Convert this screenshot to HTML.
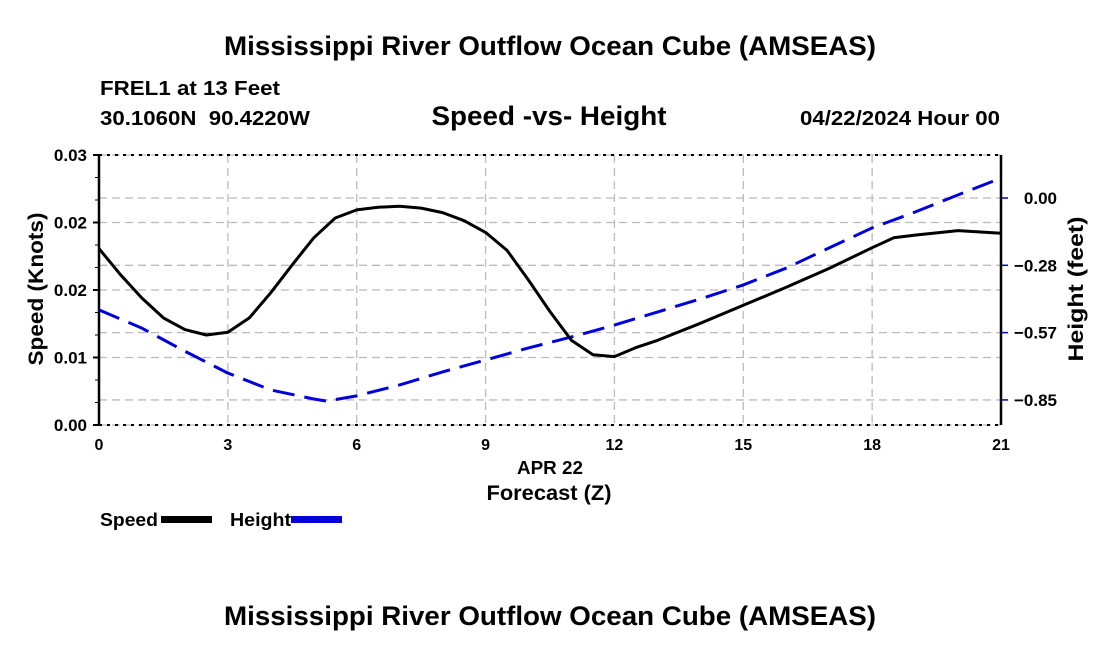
<!DOCTYPE html>
<html><head><meta charset="utf-8"><style>
body{margin:0;background:#fff;width:1100px;height:650px;overflow:hidden;font-family:"Liberation Sans",sans-serif}
</style></head><body>
<svg id="chart" width="1100" height="650" viewBox="0 0 1100 650" xmlns="http://www.w3.org/2000/svg" font-family="Liberation Sans, sans-serif" font-weight="bold">
<rect width="1100" height="650" fill="#fff"/>
<text x="550" y="55" text-anchor="middle" font-size="27" textLength="652" lengthAdjust="spacingAndGlyphs">Mississippi River Outflow Ocean Cube (AMSEAS)</text>
<text x="100" y="95" font-size="20" textLength="180" lengthAdjust="spacingAndGlyphs">FREL1 at 13 Feet</text>
<text x="100" y="125" font-size="20" textLength="210" lengthAdjust="spacingAndGlyphs" xml:space="preserve">30.1060N  90.4220W</text>
<text x="549" y="125" text-anchor="middle" font-size="27" textLength="235" lengthAdjust="spacingAndGlyphs">Speed -vs- Height</text>
<text x="1000" y="125" text-anchor="end" font-size="20" textLength="200" lengthAdjust="spacingAndGlyphs">04/22/2024 Hour 00</text>
<g id="grid"></g>
<g id="axes"></g>
<g id="series"></g>
<text x="550" y="474" text-anchor="middle" font-size="18" textLength="66" lengthAdjust="spacingAndGlyphs">APR 22</text>
<text x="549" y="500" text-anchor="middle" font-size="21" textLength="125" lengthAdjust="spacingAndGlyphs">Forecast (Z)</text>
<text transform="translate(43,289) rotate(-90)" text-anchor="middle" font-size="21" textLength="153" lengthAdjust="spacingAndGlyphs">Speed (Knots)</text>
<text transform="translate(1083,289) rotate(-90)" text-anchor="middle" font-size="21" textLength="145" lengthAdjust="spacingAndGlyphs">Height (feet)</text>
<g>
<text x="100" y="526" font-size="18" textLength="58" lengthAdjust="spacingAndGlyphs">Speed</text>
<rect x="161" y="516" width="51" height="7" fill="#000"/>
<text x="230" y="526" font-size="18" textLength="61" lengthAdjust="spacingAndGlyphs">Height</text>
<rect x="291" y="516" width="51" height="7" fill="#0000dd"/>
<line x1="293" y1="519.5" x2="340" y2="519.5" stroke="#000" stroke-width="1" stroke-dasharray="6,4"/>
</g>
<text x="550" y="625" text-anchor="middle" font-size="27" textLength="652" lengthAdjust="spacingAndGlyphs">Mississippi River Outflow Ocean Cube (AMSEAS)</text>
</svg>
<script>
const hours=[0,0.5,1,1.5,2,2.5,3,3.5,4,4.5,5,5.5,6,6.5,7,7.5,8,8.5,9,9.5,10,10.5,11,11.5,12,12.5,13,14,15,16,17,18,18.5,19,20,21];
const speed=[0.0196,0.0167,0.0141,0.0119,0.0106,0.0100,0.0103,0.0119,0.0147,0.0178,0.0208,0.0230,0.0239,0.0242,0.0243,0.0241,0.0236,0.0227,0.0214,0.0194,0.0161,0.0126,0.0094,0.0078,0.0076,0.0086,0.0094,0.0113,0.0133,0.0153,0.0174,0.0197,0.0208,0.0211,0.0216,0.0213];
const heightHours=[0,1,2,3,4,5,5.3,6,7,8,9,10,11,12,13,14,15,16,17,18,19,20,21];
const height=[-0.471,-0.548,-0.645,-0.737,-0.808,-0.846,-0.855,-0.833,-0.787,-0.732,-0.682,-0.631,-0.585,-0.535,-0.48,-0.425,-0.366,-0.295,-0.21,-0.126,-0.059,0.013,0.084];
const xTicks=[0,3,6,9,12,15,18,21];
const speedTicks=[0,0.0075,0.015,0.0225,0.03];
const speedTickLabels=["0.00","0.01","0.02","0.02","0.03"];
const heightTicks=[0,-0.2833,-0.5667,-0.85];
const heightTickLabels=["0.00","\u22120.28","\u22120.57","\u22120.85"];
const L=99,R=1001,T=155,B=425;
const NS="http://www.w3.org/2000/svg";
const x=h=>L+(h-0)/21*(R-L);
const yS=v=>B-v/0.03*(B-T);
const yH=v=>198-v/0.2833*67.3;
function mk(tag,attrs,parent){const e=document.createElementNS(NS,tag);for(const k in attrs)e.setAttribute(k,attrs[k]);parent.appendChild(e);return e;}
const grid=document.getElementById('grid'),axes=document.getElementById('axes'),series=document.getElementById('series');
xTicks.forEach((t,i)=>{
  const g=mk('line',{x1:x(t),x2:x(t),y1:T,y2:B,stroke:'#bbb','stroke-dasharray':'8,5','stroke-width':1.3},grid);
  
  
  const lb=mk('text',{x:x(t),y:B+25,'text-anchor':'middle','font-size':16},axes);lb.textContent=t;
  
  
});
speedTicks.forEach((t,i)=>{
  const g=mk('line',{x1:L,x2:R,y1:yS(t),y2:yS(t),stroke:'#bbb','stroke-dasharray':'8,5','stroke-width':1.3},grid);
  
  
  mk('line',{x1:L-6,x2:L,y1:yS(t),y2:yS(t),stroke:'#000','stroke-width':2},axes);
  const lb=mk('text',{x:L-12,y:yS(t)+6,'text-anchor':'end','font-size':17},axes);lb.textContent=speedTickLabels[i];
  
  
});
heightTicks.forEach((t,i)=>{
  const g=mk('line',{x1:L,x2:R,y1:yH(t),y2:yH(t),stroke:'#bbb','stroke-dasharray':'8,5','stroke-width':1.3},grid);
  
  
  mk('line',{x1:R,x2:R+7,y1:yH(t),y2:yH(t),stroke:'#0000cc','stroke-width':1.5},axes);
  const lb=mk('text',{x:1057,y:yH(t)+6,'text-anchor':'end','font-size':17},axes);lb.textContent=heightTickLabels[i];
  
  
});
for(let v=0;v<=0.03001;v+=0.0025){mk('line',{x1:L-4,x2:L,y1:yS(v),y2:yS(v),stroke:'#000','stroke-width':1},axes);}
mk('line',{x1:L,x2:R,y1:T,y2:T,stroke:'#000','stroke-width':2,'stroke-dasharray':'3,5'},axes);
mk('line',{x1:L,x2:R,y1:B,y2:B,stroke:'#000','stroke-width':2,'stroke-dasharray':'3,5'},axes);
mk('line',{x1:L,x2:L,y1:T,y2:B,stroke:'#000','stroke-width':2.5},axes);
mk('line',{x1:R,x2:R,y1:T,y2:B,stroke:'#000','stroke-width':2.5},axes);
const hp=mk('polyline',{points:heightHours.map((h,i)=>x(h)+','+yH(height[i])).join(' '),fill:'none',stroke:'#0000dd','stroke-width':3,'stroke-dasharray':'22,10'},series);


const sp=mk('polyline',{points:hours.map((h,i)=>x(h)+','+yS(speed[i])).join(' '),fill:'none',stroke:'#000','stroke-width':3,'stroke-linejoin':'round'},series);


</script>
</body></html>
